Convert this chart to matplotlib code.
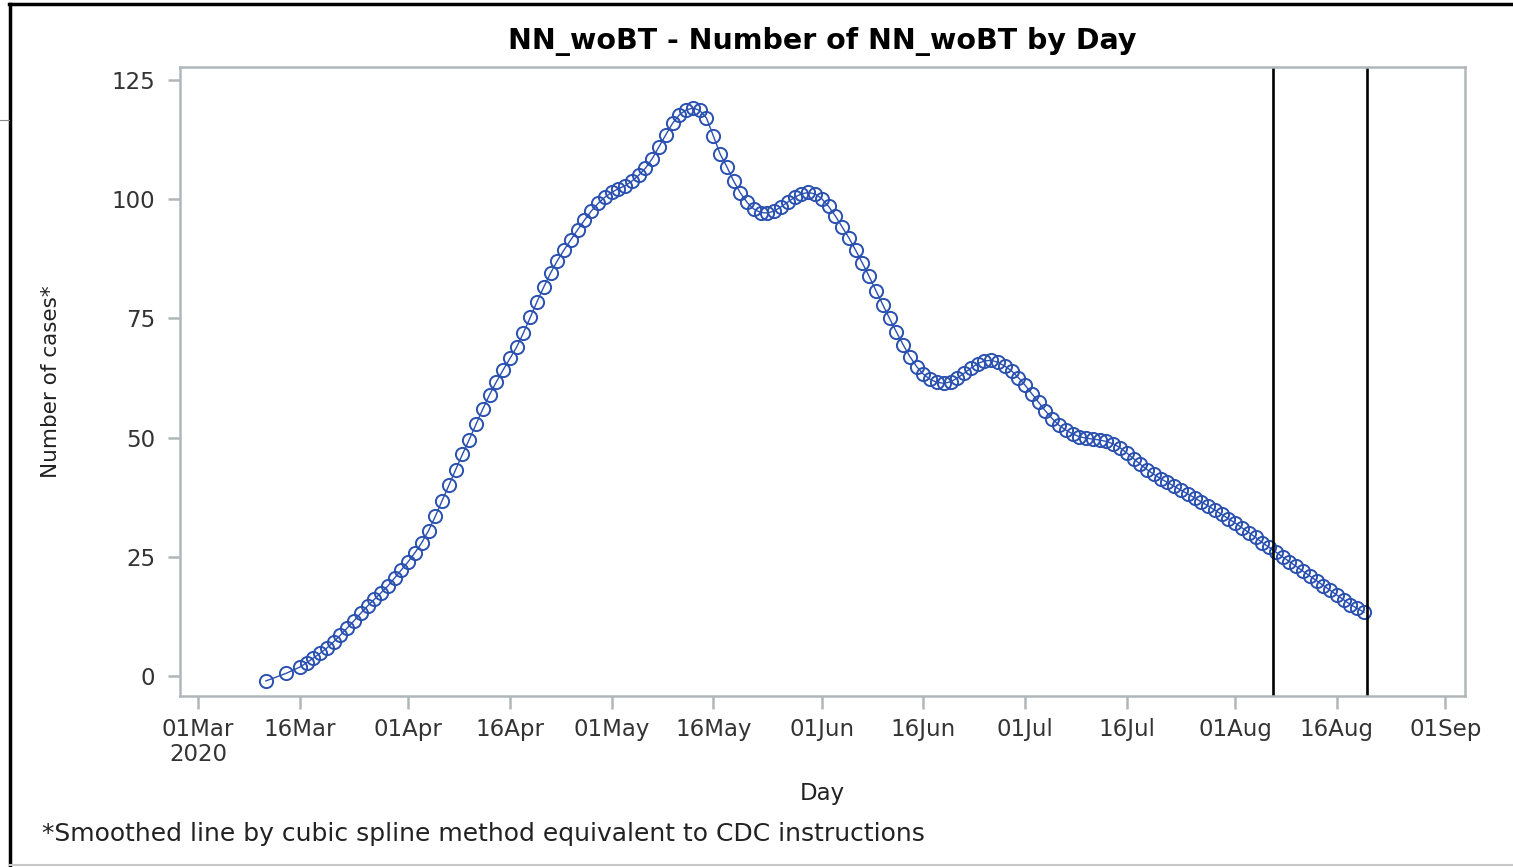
#!/usr/bin/env python3
"""Daily smoothed case counts, SAS-style series plot."""
import matplotlib
matplotlib.use('Agg')
import matplotlib.pyplot as plt
from matplotlib.lines import Line2D
import pandas as pd

plt.rcParams['font.family'] = ['DejaVu Sans']

# first two points are irregular, then daily from 16Mar to 20Aug
early_dates = ['2020-03-11', '2020-03-14']
early_values = [-1.0, 0.6]
daily_start, daily_end = '2020-03-16', '2020-08-20'
daily_values = [
    1.9, 2.8, 3.8, 4.8, 5.9, 7.2, 8.6, 10.1, 11.6, 13.2,
    14.7, 16.1, 17.5, 18.9, 20.6, 22.3, 24.0, 25.9, 28.0, 30.5,
    33.5, 36.8, 40.0, 43.3, 46.5, 49.6, 52.8, 56.0, 59.0, 61.7,
    64.2, 66.6, 69.0, 72.0, 75.2, 78.5, 81.6, 84.5, 87.1, 89.4,
    91.5, 93.6, 95.6, 97.5, 99.1, 100.4, 101.4, 102.2, 102.8, 103.8,
    105.0, 106.5, 108.5, 111.0, 113.5, 115.9, 117.7, 118.7, 119.1, 118.6,
    117.0, 113.3, 109.5, 106.8, 103.8, 101.3, 99.3, 97.9, 97.2, 97.1,
    97.5, 98.4, 99.4, 100.4, 101.1, 101.4, 101.1, 100.1, 98.5, 96.5,
    94.2, 91.9, 89.3, 86.6, 83.8, 80.8, 77.9, 75.0, 72.2, 69.5,
    67.0, 64.9, 63.3, 62.2, 61.6, 61.4, 61.7, 62.5, 63.5, 64.6,
    65.5, 66.1, 66.2, 65.8, 65.0, 64.0, 62.6, 61.0, 59.2, 57.4,
    55.6, 54.0, 52.6, 51.6, 50.8, 50.2, 49.9, 49.7, 49.5, 49.2,
    48.7, 47.9, 46.8, 45.6, 44.4, 43.3, 42.3, 41.4, 40.6, 39.8,
    39.0, 38.2, 37.4, 36.5, 35.7, 34.8, 33.9, 33.0, 32.1, 31.1,
    30.1, 29.1, 28.0, 27.0, 26.0, 25.0, 24.0, 23.0, 22.0, 21.0,
    20.0, 19.0, 18.0, 17.0, 16.0, 15.0, 14.2, 13.4,
]
ref_dates = ['2020-08-06 12:00', '2020-08-20 12:00']
yticks = [0, 25, 50, 75, 100, 125]

dates = list(pd.to_datetime(early_dates)) + list(pd.date_range(daily_start, daily_end))
values = early_values + daily_values

fig = plt.figure(figsize=(15.13, 8.67), dpi=100)
ax = fig.add_axes([0.119, 0.197, 0.8493, 0.7257])

blue = '#2A50B0'
ax.plot(dates, values, '-', color=blue, linewidth=1.0, marker='o', markersize=9.5,
        markerfacecolor='none', markeredgecolor=blue, markeredgewidth=1.4)

for d in ref_dates:
    ax.axvline(pd.Timestamp(d), color='black', linewidth=1.9)

t0 = pd.Timestamp('2020-03-01')
ax.set_xlim(t0 - pd.Timedelta(days=2.66), t0 + pd.Timedelta(days=186.9))
ax.set_ylim(-4.2, 127.7)

xt = []
for m in range(3, 10):
    xt.append(pd.Timestamp(2020, m, 1))
    if m < 9:
        xt.append(pd.Timestamp(2020, m, 16))
ax.set_xticks(xt)
xlabels = [t.strftime('%d%b') for t in xt]
xlabels[0] = '01Mar\n2020'
ax.set_xticklabels(xlabels)
ax.set_yticks(yticks)

grey = '#B0B6BA'
for s in ax.spines.values():
    s.set_color(grey)
    s.set_linewidth(1.8)
ax.tick_params(axis='both', colors=grey, width=1.8, length=9, labelcolor='#333333',
               labelsize=16.5)
ax.tick_params(axis='x', pad=7)
ax.tick_params(axis='y', pad=9)
for lbl in ax.get_xticklabels():
    lbl.set_verticalalignment('top')
    lbl.set_linespacing(1.1)

ax.set_xlabel('Day', fontsize=16.5, color='#222222', labelpad=11)
ax.set_ylabel('Number of cases*', fontsize=15.5, color='#222222', labelpad=36)
ax.set_title('NN_woBT - Number of NN_woBT by Day', fontsize=20.5, fontweight='bold',
             pad=13)

fig.text(0.028, 0.038, '*Smoothed line by cubic spline method equivalent to CDC instructions',
         fontsize=18, color='#222222', ha='left', va='center')

# outer border of the exported graph
fig.add_artist(Line2D([0.006, 1.0], [0.995, 0.995], transform=fig.transFigure,
                      color='black', linewidth=2.5))
fig.add_artist(Line2D([0.0065, 0.0065], [0.0, 0.995], transform=fig.transFigure,
                      color='black', linewidth=2.5))
fig.add_artist(Line2D([0.006, 1.0], [0.002, 0.002], transform=fig.transFigure,
                      color='#C8C8C8', linewidth=1.5))
fig.add_artist(Line2D([0.0, 0.006], [0.862, 0.862], transform=fig.transFigure,
                      color='#888888', linewidth=0.8))

plt.savefig('out.png', dpi=100)
print('Plot saved to out.png')
